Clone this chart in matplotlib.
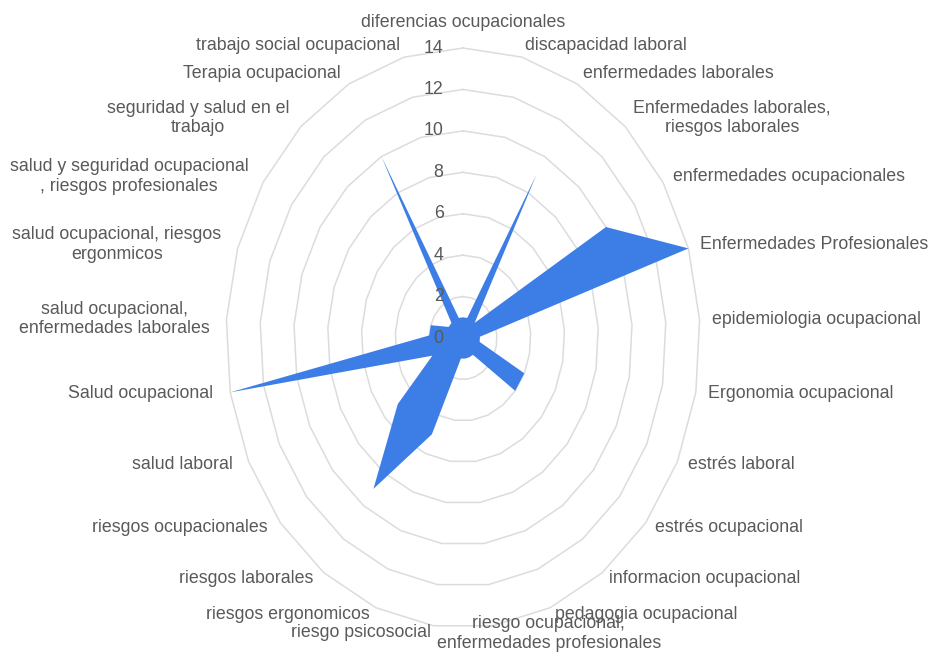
import numpy as np
import matplotlib
matplotlib.use("Agg")
import matplotlib.pyplot as plt

plt.rcParams['font.family'] = ['Liberation Sans', 'DejaVu Sans']

# categories, clockwise from the top
categorias = [
    "diferencias ocupacionales",
    "discapacidad laboral",
    "enfermedades laborales",
    "Enfermedades laborales,\nriesgos laborales",
    "enfermedades ocupacionales",
    "Enfermedades Profesionales",
    "epidemiologia ocupacional",
    "Ergonomia ocupacional",
    "estrés laboral",
    "estrés ocupacional",
    "informacion ocupacional",
    "pedagogia ocupacional",
    "riesgo ocupacional,\nenfermedades profesionales",
    "riesgo psicosocial",
    "riesgos ergonomicos",
    "riesgos laborales",
    "riesgos ocupacionales",
    "salud laboral",
    "Salud ocupacional",
    "salud ocupacional,\nenfermedades laborales",
    "salud ocupacional, riesgos\nergonmicos",
    "salud y seguridad ocupacional\n, riesgos profesionales",
    "seguridad y salud en el\ntrabajo",
    "Terapia ocupacional",
    "trabajo social ocupacional",
]
valores = [1, 1, 9, 1, 10, 14, 1, 1, 4, 4, 1, 1, 1, 1, 5, 9, 5, 2, 14, 2, 2, 1, 1, 10, 1]
niveles = [0, 2, 4, 6, 8, 10, 12, 14]

color_relleno = "#3c7de6"
color_grid = "#dcdcdc"
color_texto = "#595959"
fs = 12.8

n = len(categorias)
angulos = np.linspace(0, 2 * np.pi, n, endpoint=False)
ang_cerrado = np.append(angulos, angulos[0])
val_cerrado = np.append(valores, valores[0])

fig = plt.figure(figsize=(9.32, 6.57), dpi=100)
ax = fig.add_axes([0.2425, 0.0441, 0.5086, 0.8828], projection='polar')
ax.set_aspect('auto')
ax.set_theta_zero_location('N')
ax.set_theta_direction(-1)
ax.set_ylim(0, niveles[-1])
ax.grid(False)
ax.set_xticks([])
ax.set_yticks([])
ax.spines['polar'].set_visible(False)
ax.patch.set_alpha(0)

# polygon gridlines
for nv in niveles[1:]:
    ax.plot(ang_cerrado, [nv] * (n + 1), color=color_grid, lw=1.1, zorder=1, clip_on=False)

ax.fill(ang_cerrado, val_cerrado, color=color_relleno, lw=0, zorder=2, clip_on=False)

# radial value labels on the top axis
for nv in niveles:
    ax.annotate(str(nv), xy=(0, nv), xytext=(-14, 0), textcoords='offset points',
                ha='right', va='center', fontsize=fs, color=color_texto,
                zorder=5, annotation_clip=False)

# category labels
px = 0.72  # pixels -> points at 100 dpi
for i, (ang, txt) in enumerate(zip(angulos, categorias)):
    s, c = np.sin(ang), np.cos(ang)
    if i == 0:
        ha, dx, dy = 'center', 0, 26
    elif i == 12:
        ha, dx, dy = 'center', 56, -8
    else:
        ha = 'left' if s > 0 else 'right'
        dx = (12 if s > 0 else 17) * s
        dy = (12 if c > 0 else 7) * c
    ax.annotate(txt, xy=(ang, niveles[-1]), xytext=(dx * px, dy * px),
                textcoords='offset points', ha=ha, va='center', multialignment='center',
                fontsize=fs, color=color_texto, annotation_clip=False, zorder=5)

fig.savefig("out.png", dpi=100)
